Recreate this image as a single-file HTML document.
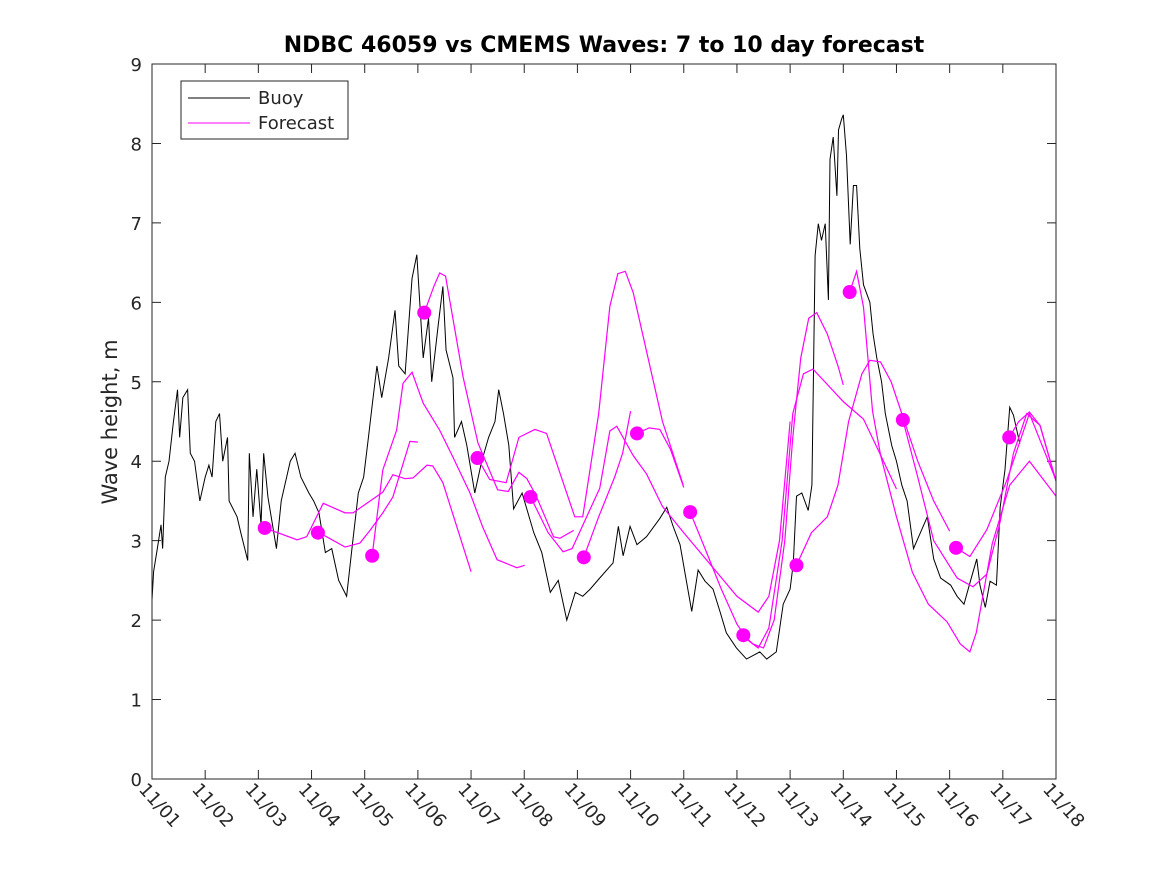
<!DOCTYPE html>
<html><head><meta charset="utf-8"><style>
body{margin:0;background:#fff;}
svg text{font-family:"DejaVu Sans","Liberation Sans",sans-serif;fill:#262626;}
</style></head><body>
<svg id="chart" width="1167" height="875" xmlns="http://www.w3.org/2000/svg">
<rect width="1167" height="875" fill="#fff"/>
<defs><clipPath id="clip"><rect x="152" y="64" width="904" height="715"/></clipPath></defs>
<text x="604" y="52" text-anchor="middle" font-size="22" font-weight="bold" style="fill:#000">NDBC 46059 vs CMEMS Waves: 7 to 10 day forecast</text>
<text transform="translate(117,422) rotate(-90)" text-anchor="middle" font-size="21">Wave height, m</text>
<g id="axes"></g>
<g id="series" clip-path="url(#clip)"></g>
<rect x="152" y="64" width="904" height="715" fill="none" stroke="#262626" stroke-width="1"/>
<g>
<rect x="181" y="81" width="167" height="58" fill="#fff" stroke="#262626"/>
<line x1="188" y1="98" x2="250" y2="98" stroke="#000"/>
<text x="258" y="104" font-size="18">Buoy</text>
<line x1="188" y1="123" x2="250" y2="123" stroke="#f0f"/>
<text x="258" y="129" font-size="18">Forecast</text>
</g>
</svg>
<script>
const xTickLabels=["11/01","11/02","11/03","11/04","11/05","11/06","11/07","11/08","11/09","11/10","11/11","11/12","11/13","11/14","11/15","11/16","11/17","11/18"];
const yTickLabels=["0","1","2","3","4","5","6","7","8","9"];
const buoyDays=[0,.03,.1,.17,.2,.25,.32,.4,.48,.52,.58,.67,.72,.8,.9,1.0,1.07,1.13,1.2,1.27,1.33,1.42,1.45,1.6,1.67,1.8,1.83,1.9,1.97,2.05,2.1,2.18,2.34,2.43,2.6,2.69,2.8,2.95,3.04,3.14,3.26,3.38,3.51,3.66,3.76,3.88,3.98,4.07,4.14,4.23,4.32,4.45,4.57,4.64,4.76,4.89,4.98,5.1,5.2,5.26,5.38,5.47,5.53,5.66,5.69,5.82,5.92,6.07,6.2,6.33,6.45,6.52,6.61,6.71,6.8,6.96,7.18,7.33,7.49,7.64,7.8,7.96,8.1,8.24,8.42,8.67,8.77,8.86,8.99,9.12,9.3,9.55,9.68,9.8,9.93,10.05,10.15,10.27,10.4,10.55,10.68,10.8,10.99,11.18,11.43,11.56,11.74,11.87,12.0,12.06,12.12,12.22,12.34,12.41,12.47,12.53,12.59,12.66,12.72,12.75,12.81,12.88,12.91,12.97,13.0,13.06,13.13,13.19,13.25,13.31,13.38,13.5,13.56,13.63,13.72,13.79,13.91,14.0,14.1,14.2,14.32,14.45,14.58,14.7,14.83,15.02,15.14,15.27,15.39,15.51,15.57,15.67,15.76,15.88,15.95,16.04,16.13,16.2,16.32];
const buoyValues=[2.25,2.61,2.9,3.2,2.9,3.8,4.0,4.48,4.9,4.3,4.8,4.9,4.1,4.0,3.5,3.8,3.95,3.8,4.5,4.6,4.0,4.3,3.5,3.3,3.1,2.75,4.1,3.3,3.9,3.2,4.1,3.55,2.9,3.5,4.0,4.1,3.8,3.6,3.5,3.35,2.85,2.9,2.5,2.3,2.9,3.6,3.8,4.3,4.7,5.2,4.8,5.3,5.9,5.2,5.1,6.3,6.6,5.3,5.8,5.0,5.7,6.2,5.4,5.05,4.3,4.5,4.2,3.6,4.0,4.3,4.5,4.9,4.6,4.2,3.4,3.6,3.1,2.85,2.35,2.5,2.0,2.35,2.3,2.39,2.53,2.72,3.18,2.81,3.18,2.95,3.05,3.28,3.42,3.18,2.95,2.49,2.11,2.63,2.49,2.39,2.11,1.84,1.65,1.51,1.6,1.51,1.6,2.2,2.39,2.72,3.56,3.6,3.38,3.7,6.59,6.99,6.78,6.99,6.03,7.8,8.08,7.34,8.17,8.31,8.36,7.85,6.73,7.47,7.47,6.68,6.22,6.0,5.6,5.3,5.0,4.6,4.2,4.0,3.7,3.5,2.9,3.1,3.3,2.77,2.53,2.44,2.3,2.2,2.49,2.77,2.44,2.16,2.49,2.44,3.42,3.89,4.68,4.58,4.22];
const runStartDays=[2.12,3.12,4.14,5.12,6.12,7.12,8.12,9.12,10.12,11.12,12.12,13.12,14.12,15.12,16.12];
const runStartValues=[3.16,3.1,2.81,5.87,4.04,3.55,2.79,4.35,3.36,1.81,2.69,6.13,4.52,2.91,4.3];
const fc03=[[2.12,3.16],[2.73,3.01],[2.91,3.05],[3.22,3.47],[3.63,3.35],[3.78,3.35],[4.34,3.61],[4.53,3.83],[4.76,3.78],[4.91,3.79],[5.17,3.95],[5.28,3.94],[5.47,3.73],[6.0,2.61]];
const fc04=[[3.12,3.11],[3.63,2.92],[3.91,2.97],[4.1,3.13],[4.34,3.35],[4.53,3.55],[4.85,4.25],[5.0,4.24]];
const fc05=[[4.14,2.81],[4.34,3.89],[4.6,4.39],[4.72,4.98],[4.89,5.12],[5.1,4.73],[5.41,4.39],[5.66,4.05],[5.98,3.6],[6.22,3.17],[6.49,2.76],[6.86,2.66],[7.01,2.69]];
const fc06=[[5.12,5.87],[5.3,6.2],[5.41,6.37],[5.52,6.33],[5.85,5.06],[6.13,4.23],[6.5,3.64],[6.7,3.62],[6.9,3.86],[7.05,3.78],[7.22,3.57],[7.55,3.05],[7.67,3.03],[7.93,3.13]];
const fc07=[[6.12,4.04],[6.35,3.77],[6.66,3.73],[6.9,4.3],[7.2,4.4],[7.42,4.35],[7.95,3.3],[8.1,3.3],[8.4,4.6],[8.61,5.95],[8.76,6.36],[8.9,6.39],[9.05,6.12],[9.6,4.5],[9.99,3.7]];
const fc08=[[7.12,3.55],[7.45,3.1],[7.73,2.86],[7.9,2.9],[8.42,3.66],[8.61,4.38],[8.74,4.44],[9.05,4.07],[9.3,3.84],[9.6,3.43],[10.0,3.1],[10.5,2.7],[11.0,2.3],[11.4,2.1],[11.6,2.3],[11.8,3.0],[12.0,4.5]];
const fc09=[[8.12,2.79],[8.4,3.3],[8.7,3.8],[8.85,4.1],[9.0,4.63]];
const fc10=[[9.12,4.35],[9.35,4.42],[9.55,4.4],[9.75,4.15],[10.0,3.67]];
const fc11=[[10.12,3.36],[10.4,2.9],[10.7,2.4],[11.0,1.95],[11.2,1.75],[11.4,1.65],[11.6,1.9],[11.85,3.0],[12.05,4.6],[12.25,5.1],[12.43,5.16],[13.0,4.75],[13.38,4.53],[13.7,4.08],[14.0,3.65]];
const fc12=[[11.12,1.81],[11.3,1.7],[11.5,1.65],[11.7,2.0],[11.9,3.0],[12.05,4.3],[12.2,5.3],[12.35,5.8],[12.5,5.87],[12.7,5.6],[12.9,5.2],[13.0,4.96]];
const fc13=[[12.12,2.69],[12.4,3.1],[12.7,3.3],[12.9,3.7],[13.1,4.5],[13.35,5.1],[13.5,5.27],[13.7,5.25],[13.9,5.0],[14.1,4.6],[14.4,4.0],[14.7,3.5],[15.0,3.12]];
const fc14=[[13.12,6.13],[13.25,6.39],[13.38,5.94],[13.55,4.63],[13.7,4.08],[14.0,3.3],[14.3,2.6],[14.6,2.2],[14.95,1.98],[15.2,1.7],[15.38,1.6],[15.5,1.84],[15.8,2.96],[16.13,3.7],[16.5,4.0],[17.0,3.56]];
const fc15=[[14.12,4.52],[14.4,3.8],[14.7,3.0],[15.14,2.53],[15.44,2.42],[15.7,2.58],[15.95,3.24],[16.2,4.1],[16.45,4.6],[16.7,4.45],[17.0,3.75]];
const fc16=[[15.12,2.91],[15.38,2.8],[15.7,3.14],[16.07,3.75],[16.5,4.6],[17.0,3.76]];
const fc17=[[16.12,4.3],[16.3,4.5],[16.5,4.62],[16.7,4.45],[17.0,3.75]];
const forecastRuns=[fc03,fc04,fc05,fc06,fc07,fc08,fc09,fc10,fc11,fc12,fc13,fc14,fc15,fc16,fc17];

const NS="http://www.w3.org/2000/svg";
const X0=152,X1=1056,Y0=779,Y1=64;
function xs(d){return X0+(X1-X0)*d/17;}
function ys(v){return Y0-(Y0-Y1)*v/9;}
const axes=document.getElementById('axes');
const series=document.getElementById('series');
function mk(tag,attrs,parent){const e=document.createElementNS(NS,tag);for(const k in attrs)e.setAttribute(k,attrs[k]);parent.appendChild(e);return e;}
yTickLabels.forEach((t,i)=>{
  const y=ys(+t);
  const l=mk('path',{d:`M${X0},${y}h9M${X1},${y}h-9`,stroke:'#262626',fill:'none'},axes);
  
  
  const tx=mk('text',{x:X0-10,y:y+7,'text-anchor':'end','font-size':'18'},axes);
  tx.textContent=t;
  
  
});
xTickLabels.forEach((t,i)=>{
  const x=xs(i);
  const l=mk('path',{d:`M${x},${Y0}v-9M${x},${Y1}v9`,stroke:'#262626',fill:'none'},axes);
  
  
  const tx=mk('text',{transform:`translate(${x-14},${Y0+11}) rotate(48)`,'font-size':'18'},axes);
  tx.textContent=t;
  
  
});
const bp=mk('polyline',{points:buoyDays.map((d,i)=>xs(d)+','+ys(buoyValues[i])).join(' '),fill:'none',stroke:'#000','stroke-width':'1'},series);


forecastRuns.forEach(run=>{
  const p=mk('polyline',{points:run.map(q=>xs(q[0])+','+ys(q[1])).join(' '),fill:'none',stroke:'#f0f','stroke-width':'1.2'},series);
  
  
});
runStartDays.forEach((d,i)=>{
  const c=mk('circle',{cx:xs(d),cy:ys(runStartValues[i]),r:7,fill:'#f0f'},series);
  
  
});
</script>
</body></html>
